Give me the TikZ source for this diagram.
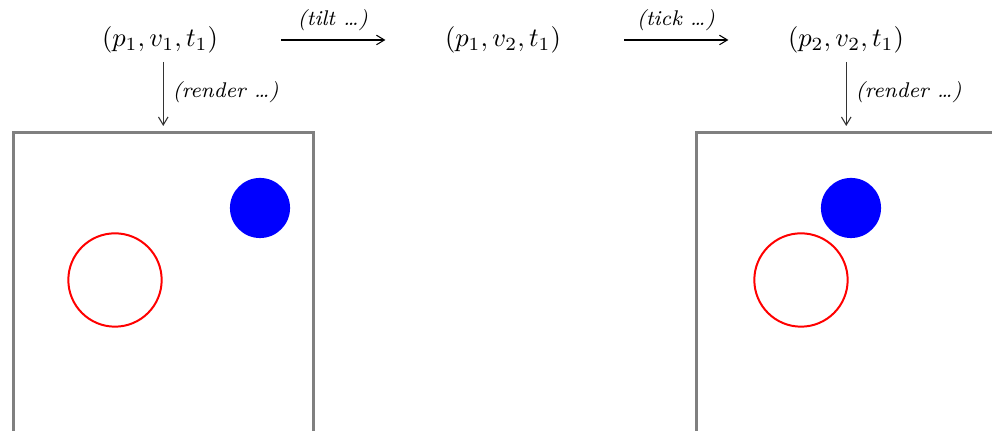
\documentclass[tikz,border=0pt]{standalone}
\usetikzlibrary{arrows.meta}
\tikzset{
  state/.style={inner sep=3pt},
  flow/.style={-{Straight Barb[length=3pt,width=3.6pt]}, line width=0.4pt, shorten <=20.6pt, shorten >=19.2pt},
  renderarrow/.style={-{Straight Barb[length=3pt,width=3.6pt]}, line width=0.4pt, black!80, shorten <=0pt, shorten >=1.9pt},
  lbl/.style={font=\footnotesize\itshape, black},
  frame/.style={draw=gray, line width=0.95pt, minimum width=112.8pt, minimum height=112.8pt, inner sep=0pt, anchor=north west},
  ring/.style={circle, draw=red, line width=0.75pt, minimum size=35.1pt, inner sep=0pt},
  disc/.style={circle, fill=blue, minimum size=22.6pt, inner sep=0pt}
}
\begin{document}
\begin{tikzpicture}[x=0.376pt,y=-0.376pt]
\useasboundingbox (0,0) rectangle (992,431);
\clip (0,0) rectangle (992,431);
\node[state] (A) at (160,40) {$(p_1, v_1, t_1)$};
\node[state] (B) at (503,40) {$(p_1, v_2, t_1)$};
\node[state] (C) at (846,40) {$(p_2, v_2, t_1)$};
\draw[flow] (A.east) -- node[lbl, above, xshift=0.5pt] {(tilt \dots)} (B.west);
\draw[flow] (B.east) -- node[lbl, above, xshift=0.5pt] {(tick \dots)} (C.west);
\node[frame] (F1) at (12,131) {};
\node[frame] (F2) at (695,131) {};
\draw[renderarrow] (A.south -| F1.north) -- node[lbl, right, yshift=1.6pt] {(render \dots)} (F1.north);
\draw[renderarrow] (C.south -| F2.north) -- node[lbl, right, yshift=1.6pt] {(render \dots)} (F2.north);
\node[ring] (r1) at (115,280) {};
\node[disc] (b1) at (260,208) {};
\node[ring] (r2) at (801,280) {};
\node[disc] (b2) at (851,208) {};
\end{tikzpicture}
\end{document}
